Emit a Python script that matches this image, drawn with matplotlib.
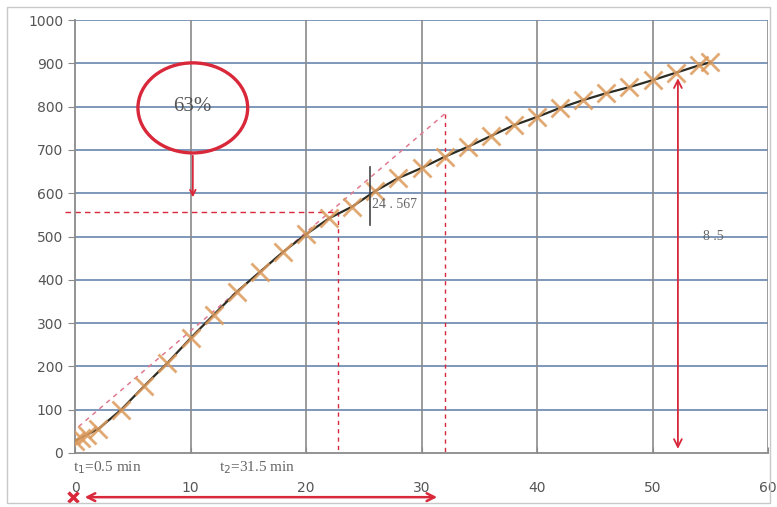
import matplotlib.pyplot as plt
from matplotlib.patches import Ellipse, Rectangle

# data
t = [0, 0.5, 1, 2, 4, 6, 8, 10, 12, 14, 16, 18, 20, 22, 24, 26, 28, 30,
     32, 34, 36, 38, 40, 42, 44, 46, 48, 50, 52, 54, 55]
v = [28, 35, 42, 55, 100, 155, 208, 265, 319, 372, 418, 464, 505, 542, 569,
     605, 635, 658, 684, 707, 732, 757, 776, 797, 815, 831, 845, 861, 878,
     895, 902]

x_ticks = [0, 10, 20, 30, 40, 50, 60]
y_ticks = [0, 100, 200, 300, 400, 500, 600, 700, 800, 900, 1000]

# construction lines
tangent_x = [-0.3, 32]
tangent_y = [47, 783]
level_63 = 557
t_cross = 22.8
t_end = 32
t_mark = 25.5
arrow_x = 52.2
arrow_top = 872

red = '#d8283a'
serif = 'Liberation Serif'

fig = plt.figure(figsize=(7.77, 5.07), dpi=100)
fig.patches.append(Rectangle((7 / 777, 4 / 507), 763 / 777, 496 / 507,
                             transform=fig.transFigure, fill=False,
                             edgecolor='#c8c8c8', lw=1))
ax = fig.add_axes([75 / 777, 54 / 507, 693 / 777, 433 / 507])

ax.set_xlim(0, 60)
ax.set_ylim(0, 1000)
ax.set_xticks(x_ticks)
ax.set_yticks(y_ticks)
for yy in y_ticks[1:]:
    ax.axhline(yy, color='#7490b4', lw=1.3, zorder=1)
for xx in x_ticks[1:]:
    ax.axvline(xx, color='#8a8a8a', lw=1.2, zorder=1)

for s in ['top', 'right']:
    ax.spines[s].set_visible(False)
for s in ['left', 'bottom']:
    ax.spines[s].set_color('#8a8a8a')
    ax.spines[s].set_linewidth(1.3)
ax.tick_params(axis='y', colors='#8a8a8a', labelcolor='#555555',
               labelsize=10, length=5)
ax.tick_params(axis='x', colors='#8a8a8a', labelcolor='#555555',
               labelsize=10, length=4, direction='in', pad=20)

# curve
ax.plot(t, v, color='#2b2b22', lw=1.6, zorder=3)
ax.plot(t, v, ls='none', marker='x', ms=13, mew=2.0, color='#dc9a5c',
        alpha=0.85, zorder=4)

# tangent and helper lines
ax.plot(tangent_x, tangent_y, color='#e07a90', lw=1.1, ls=(0, (3, 3)), zorder=2)
ax.plot([-0.9, t_cross], [level_63, level_63], color=red, lw=1,
        ls=(0, (4, 3)), clip_on=False, zorder=2)
ax.plot([t_cross, t_cross], [level_63, 0], color=red, lw=1, ls=(0, (3, 3)), zorder=2)
ax.plot([t_end, t_end], [tangent_y[1], 0], color=red, lw=1, ls=(0, (3, 3)), zorder=2)
ax.plot([t_mark, t_mark], [527, 660], color='#444444', lw=1.2, zorder=5)
ax.text(t_mark + 0.2, 573, '24 . 567', family=serif, fontsize=10,
        color='#666666', va='center', ha='left', zorder=6)

# 63% bubble
ax.add_patch(Ellipse((10.2, 797), 9.5, 208, fill=False, edgecolor=red,
                     lw=2.4, zorder=6))
ax.text(10.2, 800, '63%', family=serif, fontsize=15, color='#555555',
        ha='center', va='center', zorder=6)
ax.annotate('', xy=(10.2, 584), xytext=(10.2, 693),
            arrowprops=dict(arrowstyle='->', color=red, lw=1.3), zorder=6)

# vertical double arrow
ax.annotate('', xy=(arrow_x, arrow_top), xytext=(arrow_x, 3),
            arrowprops=dict(arrowstyle='<->', color=red, lw=1.3,
                            mutation_scale=14), zorder=6)
ax.text(54.4, 500, '8 .5', family=serif, fontsize=10, color='#666666',
        ha='left', va='center')

# bottom annotations
trans = ax.get_xaxis_transform()
ax.text(-0.2, -0.034, 't$_1$=0.5 min', family=serif, fontsize=11,
        color='#666666', transform=trans, ha='left', va='center')
ax.text(12.5, -0.034, 't$_2$=31.5 min', family=serif, fontsize=11,
        color='#666666', transform=trans, ha='left', va='center')
ax.annotate('', xy=(0.6, -0.102), xytext=(31.6, -0.102), xycoords=trans,
            textcoords=trans,
            arrowprops=dict(arrowstyle='<->', color=red, lw=1.8,
                            mutation_scale=14))
ax.plot([-0.2], [-0.102], marker='x', ms=7, mew=2.5, color=red,
        transform=trans, clip_on=False)

fig.savefig('out.png', dpi=100)
